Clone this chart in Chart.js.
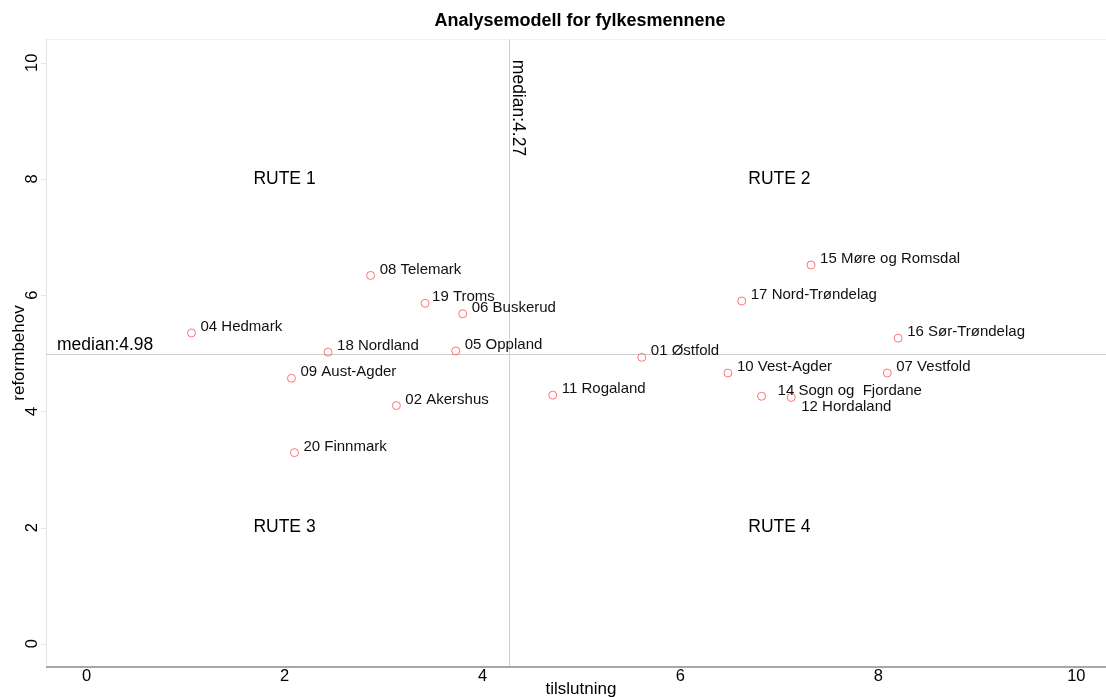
<!DOCTYPE html>
<html>
<head>
<meta charset="utf-8">
<script src="https://cdn.jsdelivr.net/npm/chart.js@4"></script>
<style>
  html, body { margin: 0; padding: 0; background: #fff; }
  #wrap { width: 1106px; height: 697px; }
</style>
</head>
<body>
<div id="wrap"><canvas id="chart-quad" width="1106" height="697"></canvas></div>
<script>
// data
const fylker = ['01 Østfold', '02 Akershus', '04 Hedmark', '05 Oppland', '06 Buskerud',
    '07 Vestfold', '08 Telemark', '09 Aust-Agder', '10 Vest-Agder', '11 Rogaland',
    '12 Hordaland', '14 Sogn og  Fjordane', '15 Møre og Romsdal', '16 Sør-Trøndelag',
    '17 Nord-Trøndelag', '18 Nordland', '19 Troms', '20 Finnmark'];
const tilslutning = [5.61, 3.13, 1.06, 3.73, 3.80, 8.09, 2.87, 2.07, 6.48, 4.71,
    7.12, 6.82, 7.32, 8.20, 6.62, 2.44, 3.42, 2.10];
const reformbehov = [4.93, 4.10, 5.35, 5.04, 5.68, 4.66, 6.34, 4.57, 4.66, 4.28,
    4.24, 4.26, 6.52, 5.26, 5.90, 5.02, 5.86, 3.29];
const medianX = 4.27;
const medianY = 4.98;
const xTicks = [0, 2, 4, 6, 8, 10];
const yTicks = [0, 2, 4, 6, 8, 10];
const ruter = ['RUTE 1', 'RUTE 2', 'RUTE 3', 'RUTE 4'];
const ruteX = [2, 7, 2, 7];
const ruteY = [8, 8, 2, 2];

const FONT = '"Liberation Sans", Arial, sans-serif';

// labels that sit somewhere other than right of the marker
const labelTweak = {
    '12 Hordaland': { dx: 10, dy: 9 },
    '14 Sogn og  Fjordane': { dx: 16, dy: -5 },
    '19 Troms': { dx: 7, dy: -6 }
};

const points = tilslutning.map((x, i) => ({ x: x, y: reformbehov[i], navn: fylker[i] }));

// everything around the plot: axes, medians, texts
const decor = {
    id: 'decor',
    beforeDatasetsDraw(chart) {
        const { ctx, chartArea: a, scales: { x, y } } = chart;
        ctx.save();
        // frame
        ctx.strokeStyle = '#f2f2f2';
        ctx.lineWidth = 1;
        ctx.beginPath();
        ctx.moveTo(a.left, a.top + 0.5); ctx.lineTo(a.right, a.top + 0.5);
        ctx.stroke();
        ctx.strokeStyle = '#e4e4e4';
        ctx.beginPath();
        ctx.moveTo(a.left + 0.5, a.top); ctx.lineTo(a.left + 0.5, a.bottom);
        ctx.stroke();
        // y ticks
        yTicks.forEach(v => {
            const py = Math.round(y.getPixelForValue(v)) + 0.5;
            ctx.beginPath();
            ctx.moveTo(a.left - 5, py); ctx.lineTo(a.left, py);
            ctx.stroke();
        });
        // median lines
        ctx.strokeStyle = '#cfcfcf';
        const mx = Math.round(x.getPixelForValue(medianX)) + 0.5;
        const my = Math.round(y.getPixelForValue(medianY)) + 0.5;
        ctx.beginPath();
        ctx.moveTo(mx, a.top); ctx.lineTo(mx, a.bottom);
        ctx.moveTo(a.left, my); ctx.lineTo(a.right, my);
        ctx.stroke();
        // x axis line
        ctx.strokeStyle = '#8a8a8a';
        ctx.lineWidth = 1.5;
        ctx.beginPath();
        ctx.moveTo(a.left, a.bottom); ctx.lineTo(a.right, a.bottom);
        ctx.stroke();

        ctx.fillStyle = '#000';
        // title
        ctx.font = 'bold 18px ' + FONT;
        ctx.textAlign = 'center';
        ctx.textBaseline = 'middle';
        ctx.fillText('Analysemodell for fylkesmennene', 580, 21);
        // x tick labels
        ctx.font = '16.5px ' + FONT;
        ctx.textBaseline = 'top';
        xTicks.forEach(v => ctx.fillText(String(v), x.getPixelForValue(v), a.bottom + 1));
        // x title
        ctx.font = '17px ' + FONT;
        ctx.textBaseline = 'middle';
        ctx.fillText('tilslutning', 581, 689);
        // y tick labels (rotated)
        ctx.font = '16.5px ' + FONT;
        yTicks.forEach(v => {
            ctx.save();
            ctx.translate(32, y.getPixelForValue(v));
            ctx.rotate(-Math.PI / 2);
            ctx.textAlign = 'center';
            ctx.textBaseline = 'middle';
            ctx.fillText(String(v), 0, 0);
            ctx.restore();
        });
        // y title
        ctx.save();
        ctx.font = '17px ' + FONT;
        ctx.translate(19, (a.top + a.bottom) / 2);
        ctx.rotate(-Math.PI / 2);
        ctx.textAlign = 'center';
        ctx.textBaseline = 'middle';
        ctx.fillText('reformbehov', 0, 0);
        ctx.restore();
        // median texts
        ctx.font = '17.5px ' + FONT;
        ctx.textAlign = 'left';
        ctx.textBaseline = 'alphabetic';
        ctx.fillText('median:' + medianY.toFixed(2), a.left + 11, my - 5);
        ctx.save();
        ctx.translate(mx + 3, y.getPixelForValue(10) - 3);
        ctx.rotate(Math.PI / 2);
        ctx.fillText('median:' + medianX.toFixed(2), 0, 0);
        ctx.restore();
        // quadrant names
        ctx.font = '17.5px ' + FONT;
        ctx.textAlign = 'center';
        ctx.textBaseline = 'middle';
        ruter.forEach((r, i) => ctx.fillText(r, x.getPixelForValue(ruteX[i]), y.getPixelForValue(ruteY[i])));
        ctx.restore();
    },
    afterDatasetsDraw(chart) {
        const { ctx } = chart;
        const meta = chart.getDatasetMeta(0);
        ctx.save();
        ctx.font = '15px ' + FONT;
        ctx.fillStyle = '#111';
        ctx.textAlign = 'left';
        ctx.textBaseline = 'middle';
        meta.data.forEach((el, i) => {
            const t = labelTweak[fylker[i]] || { dx: 9, dy: -6 };
            ctx.fillText(fylker[i], el.x + t.dx, el.y + t.dy);
        });
        ctx.restore();
    }
};

const config = {
    type: 'scatter',
    data: {
        datasets: [{
            label: 'fylker',
            data: points,
            pointStyle: 'circle',
            pointRadius: 4,
            pointHoverRadius: 4,
            backgroundColor: 'rgba(0,0,0,0)',
            borderColor: 'rgba(255, 70, 70, 0.75)',
            borderWidth: 1
        }]
    },
    options: {
        responsive: false,
        animation: false,
        events: [],
        layout: { autoPadding: false, padding: { left: 46, top: 39, right: 0, bottom: 30 } },
        plugins: {
            legend: { display: false },
            title: { display: false },
            tooltip: { enabled: false }
        },
        scales: {
            x: { type: 'linear', display: false, min: -0.41, max: 10.3 },
            y: { type: 'linear', display: false, min: -0.40, max: 10.41 }
        }
    },
    plugins: [decor]
};

const myChart = new Chart(document.getElementById('chart-quad'), config);
</script>
</body>
</html>
